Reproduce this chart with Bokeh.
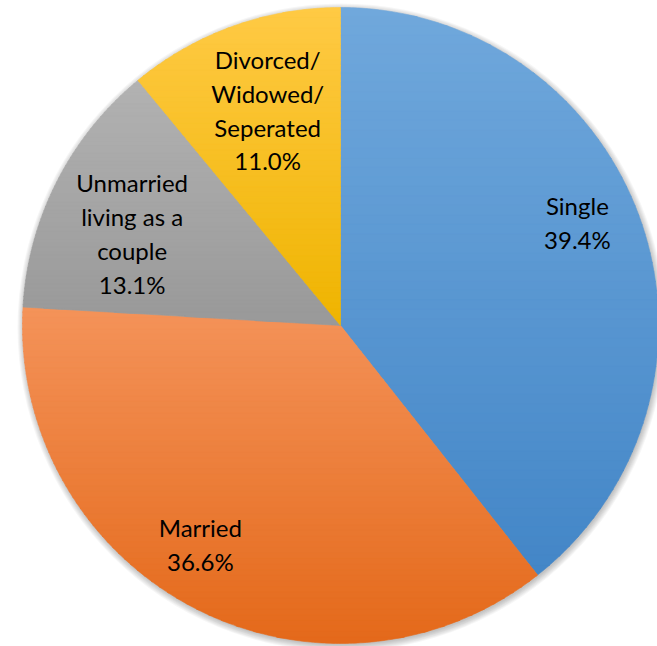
import numpy as np
from bokeh.plotting import figure
from bokeh.models import Range1d, ColumnDataSource
from bokeh.core.properties import value
from bokeh.embed import file_html
from bokeh.resources import INLINE

# ---- data ----
categories = ["Single", "Married", "Unmarried\nliving as a\ncouple", "Divorced/\nWidowed/\nSeperated"]
shares = [39.4, 36.6, 13.1, 11.0]
pct_labels = ["39.4%", "36.6%", "13.1%", "11.0%"]

# ---- styles ----
top_colors = ["#70a8dc", "#f4935a", "#b2b2b2", "#ffca45"]
bottom_colors = ["#4386c7", "#e4691a", "#999999", "#efb400"]
label_shift_deg = [-4.3, 5.1, -3.1, 1.1]
label_radius = [0.812, 0.818, 0.716, 0.715]

W, H = 657, 646
CX, CY, R = 340, 646 - 325, 318


def hex2rgb(h):
    h = h.lstrip("#")
    return np.array([int(h[i:i + 2], 16) for i in (0, 2, 4)], dtype=float)


def mix(c1, c2, t):
    c = hex2rgb(c1) * (1 - t) + hex2rgb(c2) * t
    return "#%02x%02x%02x" % tuple(int(round(v)) for v in c)


def clip(poly, y0, keep_above):
    out = []
    n = len(poly)
    for i in range(n):
        P = poly[i]
        Q = poly[(i + 1) % n]
        inP = P[1] >= y0 if keep_above else P[1] <= y0
        inQ = Q[1] >= y0 if keep_above else Q[1] <= y0
        if inP:
            out.append(P)
        if inP != inQ:
            t = (y0 - P[1]) / (Q[1] - P[1])
            out.append((P[0] + t * (Q[0] - P[0]), y0))
    return out


p = figure(width=W, height=H, output_backend="svg", toolbar_location=None,
           x_range=Range1d(0, W), y_range=Range1d(0, H), min_border=0)
p.axis.visible = False
p.grid.visible = False
p.outline_line_color = None
p.background_fill_color = "white"
p.border_fill_color = "white"

# soft shadow
for k in range(7):
    p.circle(x=[CX + 1], y=[CY - 2], radius=R + 6 - k, fill_color="black",
             fill_alpha=0.035, line_color=None)

total = float(sum(shares))
fr = np.array(shares) / total
starts = np.concatenate([[0], np.cumsum(fr)[:-1]]) * 360.0
ends = np.cumsum(fr) * 360.0

xs, ys, cols = [], [], []
nb = 60
for i in range(len(shares)):
    a0, a1 = starts[i], ends[i]
    n = max(8, int((a1 - a0) * 2))
    th = np.radians(np.linspace(a0, a1, n))
    poly = [(CX, CY)] + [(CX + R * np.sin(t), CY + R * np.cos(t)) for t in th]
    ytop = max(q[1] for q in poly)
    ybot = min(q[1] for q in poly)
    h = (ytop - ybot) / nb
    for k in range(nb):
        yhi = ytop - k * h + (0.9 if k > 0 else 0)
        ylo = ytop - (k + 1) * h
        band = clip(clip(poly, yhi, False), ylo, True)
        if len(band) < 3:
            continue
        xs.append([q[0] for q in band])
        ys.append([q[1] for q in band])
        cols.append(mix(top_colors[i], bottom_colors[i], (k + 0.5) / nb))

src = ColumnDataSource(dict(xs=xs, ys=ys, c=cols))
p.patches("xs", "ys", source=src, fill_color="c", line_color="c", line_width=0.6)

# labels
mids = (starts + ends) / 2 + np.array(label_shift_deg)
lx = CX + np.array(label_radius) * R * np.sin(np.radians(mids))
ly = CY + np.array(label_radius) * R * np.cos(np.radians(mids))
texts = [c + "\n" + pl for c, pl in zip(categories, pct_labels)]
lsrc = ColumnDataSource(dict(x=lx, y=ly, t=texts))
p.text("x", "y", text="t", source=lsrc, text_font=value("Lato"), text_font_size="24px",
       text_align="center", text_baseline="middle", text_line_height=1.17,
       text_color="black")

open("out.html", "w").write(file_html(p, INLINE))
